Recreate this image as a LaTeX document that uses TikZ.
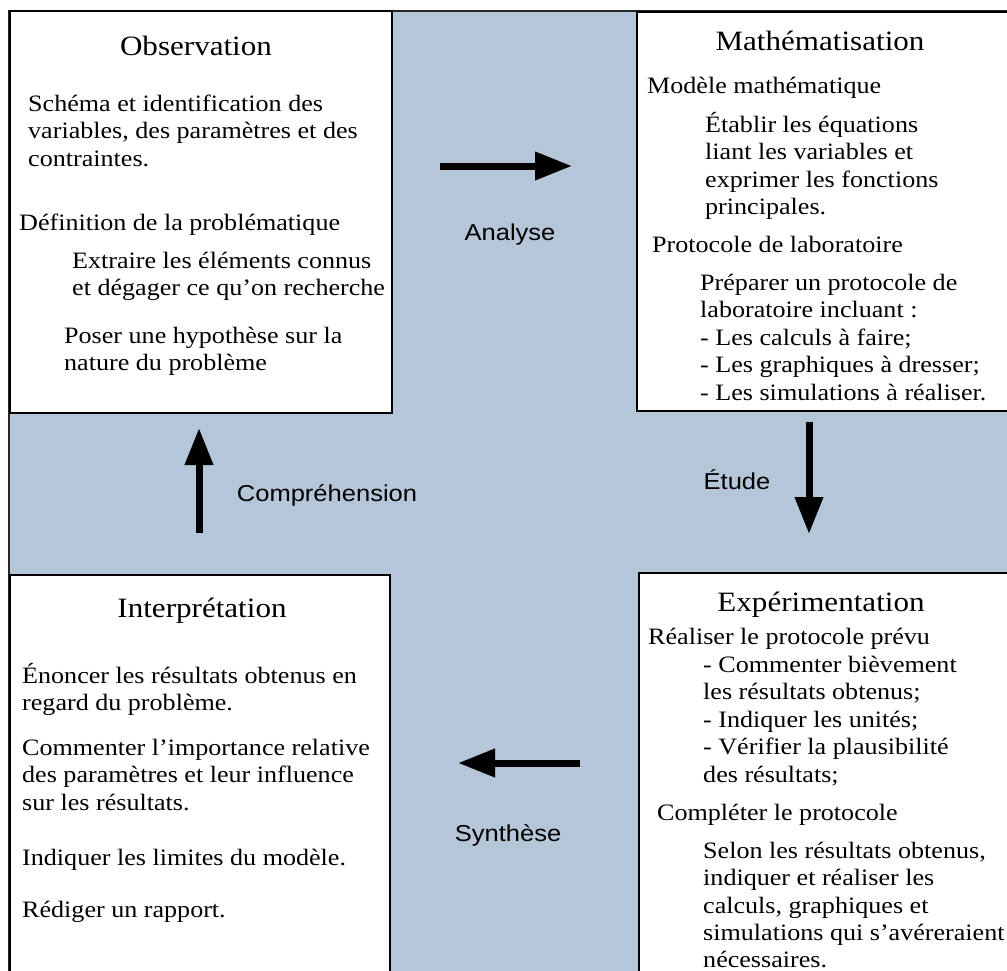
\documentclass[tikz,border=0pt]{standalone}
\usepackage{fontspec}
\setmainfont[FakeStretch=1.11]{Liberation Serif}
\newfontfamily\labelfont[FakeStretch=1.11]{Liberation Sans}
\usetikzlibrary{arrows.meta}
\definecolor{crossblue}{RGB}{181,198,216}
\tikzset{
  boxframe/.style={fill=white, draw=black, line width=2pt},
  titletext/.style={anchor=base, inner sep=0pt, font=\fontsize{28}{32}\selectfont},
  bodytext/.style={anchor=base west, inner sep=0pt, font=\fontsize{23.5}{27.5}\selectfont},
  labeltext/.style={anchor=base, inner sep=0pt, font=\labelfont\fontsize{23}{27}\selectfont},
  bigarrow/.style={line width=7pt, -{Triangle[length=37pt,width=27pt]}}
}
\begin{document}
\begin{tikzpicture}[x=1pt,y=-1pt]
\clip (0,0) rectangle (1007,970);
% background cross
\draw[fill=crossblue, draw=black!85, line width=2pt] (9,11) rectangle (1012,975);
% boxes
\draw[boxframe] (10,11) rectangle (392,413);
\draw[boxframe] (637,12) rectangle (1012,411);
\draw[boxframe] (10,575) rectangle (390,975);
\draw[boxframe] (639,573) rectangle (1012,975);

% Observation
\node[titletext] (obsT) at (196,55) {Observation};
\node[bodytext] (o1) at (28,111) {Schéma et identification des};
\node[bodytext] (o2) at (28,138.5) {variables, des paramètres et des};
\node[bodytext] (o3) at (28,166) {contraintes.};
\node[bodytext] (o4) at (19,230) {Définition de la problématique};
\node[bodytext] (o5) at (72,268) {Extraire les éléments connus};
\node[bodytext] (o6) at (72,295.5) {et dégager ce qu’on recherche};
\node[bodytext] (o7) at (64,343) {Poser une hypothèse sur la};
\node[bodytext] (o8) at (64,370.5) {nature du problème};

% Mathematisation
\node[titletext] (matT) at (820,50) {Mathématisation};
\node[bodytext] (m1) at (647,93) {Modèle mathématique};
\node[bodytext] (m2) at (705,132) {Établir les équations};
\node[bodytext] (m3) at (705,159.5) {liant les variables et};
\node[bodytext] (m4) at (705,187) {exprimer les fonctions};
\node[bodytext] (m5) at (705,214.5) {principales.};
\node[bodytext] (m6) at (652,252) {Protocole de laboratoire};
\node[bodytext] (m7) at (700,290) {Préparer un protocole de};
\node[bodytext] (m8) at (700,317.5) {laboratoire incluant :};
\node[bodytext] (m9) at (700,345) {- Les calculs à faire;};
\node[bodytext] (m10) at (700,372.5) {- Les graphiques à dresser;};
\node[bodytext] (m11) at (700,400) {- Les simulations à réaliser.};

% Interpretation
\node[titletext] (intT) at (202,617) {Interprétation};
\node[bodytext] (i1) at (22,683) {Énoncer les résultats obtenus en};
\node[bodytext] (i2) at (22,710.5) {regard du problème.};
\node[bodytext] (i3) at (22,755) {Commenter l’importance relative};
\node[bodytext] (i4) at (22,782.5) {des paramètres et leur influence};
\node[bodytext] (i5) at (22,810) {sur les résultats.};
\node[bodytext] (i6) at (22,865) {Indiquer les limites du modèle.};
\node[bodytext] (i7) at (22,917) {Rédiger un rapport.};

% Experimentation
\node[titletext] (expT) at (821,611) {Expérimentation};
\node[bodytext] (e1) at (648,644) {Réaliser le protocole prévu};
\node[bodytext] (e2) at (703,672) {- Commenter bièvement};
\node[bodytext] (e3) at (703,699.5) {les résultats obtenus;};
\node[bodytext] (e4) at (703,727) {- Indiquer les unités;};
\node[bodytext] (e5) at (703,754.5) {- Vérifier la plausibilité};
\node[bodytext] (e6) at (703,782) {des résultats;};
\node[bodytext] (e7) at (657,820) {Compléter le protocole};
\node[bodytext] (e8) at (703,858) {Selon les résultats obtenus,};
\node[bodytext] (e9) at (703,885.5) {indiquer et réaliser les};
\node[bodytext] (e10) at (703,913) {calculs, graphiques et};
\node[bodytext] (e11) at (703,940.5) {simulations qui s’avéreraient};
\node[bodytext] (e12) at (703,967) {nécessaires.};

% arrow labels
\node[labeltext] (lAna) at (510,240) {Analyse};
\node[labeltext] (lEtu) at (737,489) {Étude};
\node[labeltext] (lSyn) at (508,841) {Synthèse};
\node[labeltext] (lCom) at (327,501) {Compréhension};

% arrow end points
\coordinate (aS) at (440,166);
\coordinate (aE) at (572,166);
\coordinate (eS) at (809,422);
\coordinate (eE) at (809,534);
\coordinate (sS) at (580,763);
\coordinate (sE) at (458,763);
\coordinate (cS) at (199,533);
\coordinate (cE) at (199,428);
\draw[bigarrow] (aS) -- (aE);
\draw[bigarrow] (eS) -- (eE);
\draw[bigarrow] (sS) -- (sE);
\draw[bigarrow] (cS) -- (cE);
\end{tikzpicture}
\end{document}
